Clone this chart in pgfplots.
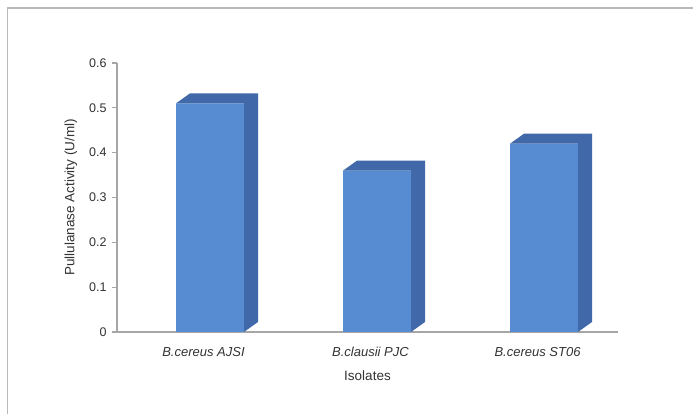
\documentclass[border=0pt]{standalone}
\usepackage{fontspec}
\setmainfont{Liberation Sans}
\usepackage{pgfplots}
\pgfplotsset{compat=1.18}
\usepackage{pgfplotstable}

\definecolor{barfront}{RGB}{88,140,210}
\definecolor{barside}{RGB}{65,105,170}
\definecolor{axisgray}{RGB}{166,166,166}
\definecolor{framegray}{RGB}{185,185,185}
\definecolor{txt}{RGB}{50,50,50}

% pullulanase activity per isolate
\pgfplotstableread{
x v
0 0.51
1 0.36
2 0.42
}\activity

\newcommand{\yunit}{448.3}

% top and right-hand faces of a prism-shaped column, drawn at the top of the column
\pgfdeclareplotmark{prism}{%
  \pgfsetfillcolor{barside}%
  \pgfpathmoveto{\pgfpoint{-24.5pt}{0pt}}%
  \pgfpathlineto{\pgfpoint{43.5pt}{0pt}}%
  \pgfpathlineto{\pgfpoint{57.5pt}{10pt}}%
  \pgfpathlineto{\pgfpoint{-10.5pt}{10pt}}%
  \pgfpathclose
  \pgfpathmoveto{\pgfpoint{43.5pt}{0pt}}%
  \pgfpathlineto{\pgfpoint{57.5pt}{10pt}}%
  \pgfpathlineto{\pgfpoint{57.5pt}{10pt-\barval*\yunit pt}}%
  \pgfpathlineto{\pgfpoint{43.5pt}{-\barval*\yunit pt}}%
  \pgfpathclose
  \pgfusepathqfill
}

\begin{document}
\begin{tikzpicture}
\useasboundingbox (-117pt,-82pt) rectangle (576pt,332pt);
\draw[framegray, line width=1.5pt] (-109.5pt,-90pt) -- (-109.5pt,324pt) -- (590pt,324pt);
\begin{axis}[
  at={(0pt,0pt)}, anchor=south west,
  x=167pt, y=\yunit pt,
  xmin=-0.5, xmax=2.5, ymin=0, ymax=0.6,
  axis x line*=bottom, axis y line*=left,
  axis line style={axisgray, line width=1.3pt, -},
  xtick={0,1,2},
  xticklabels={B.cereus AJSI, B.clausii PJC, B.cereus ST06},
  major x tick style={draw=none},
  ytick={0,0.1,0.2,0.3,0.4,0.5,0.6},
  yticklabel style={/pgf/number format/fixed, /pgf/number format/precision=1},
  /pgf/number format/assume math mode=true,
  major y tick style={axisgray, line width=1.3pt},
  ytick align=outside, major tick length=5pt,
  tick label style={txt},
  yticklabel style={font=\fontsize{12.5}{14}\selectfont, xshift=-2pt},
  xticklabel style={font=\fontsize{13}{15}\selectfont\itshape, anchor=center, yshift=-20pt, xshift=3pt},
  every axis x label/.style={at={(axis description cs:0.5,0)}, anchor=center, yshift=-44pt, font=\fontsize{13.5}{16}\selectfont, text=txt},
  every axis y label/.style={at={(axis description cs:-0.0918,0.5)}, rotate=90, anchor=center, font=\fontsize{13.5}{16}\selectfont, text=txt},
  xlabel={Isolates},
  ylabel={Pullulanase Activity (U/ml)},
  clip=false,
]
\addplot[ybar, bar width=68pt, bar shift=9.5pt, fill=barfront, draw=none]
  table[x=x, y=v] {\activity};
\addplot[only marks, mark=prism, barside,
  visualization depends on={y \as \barval}]
  table[x=x, y=v] {\activity};
\end{axis}
\end{tikzpicture}
\end{document}
